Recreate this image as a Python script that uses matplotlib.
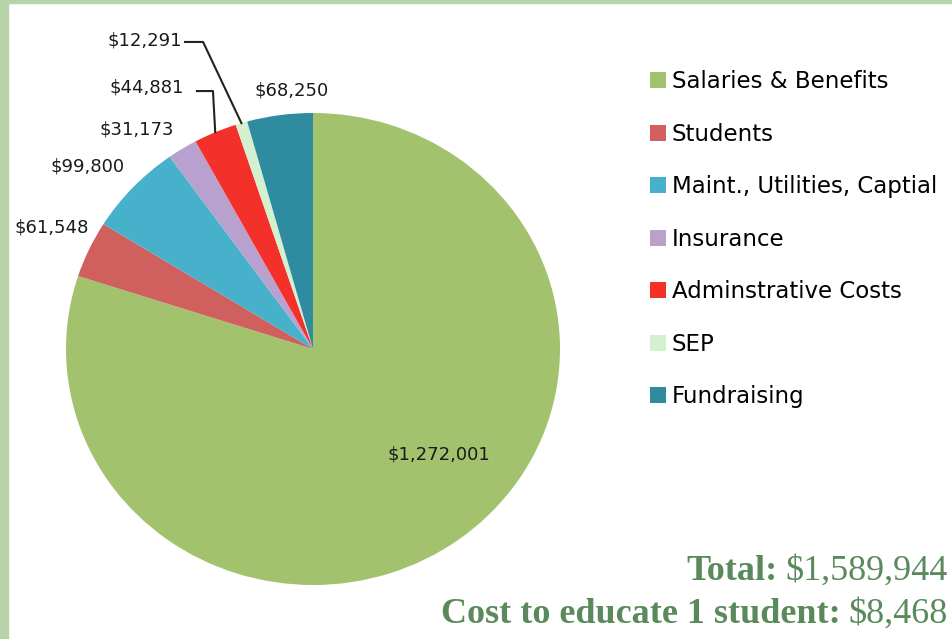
import matplotlib
matplotlib.use("Agg")
import matplotlib.pyplot as plt
from matplotlib.patches import Rectangle
import numpy as np

categories = ["Salaries & Benefits", "Students", "Maint., Utilities, Captial",
              "Insurance", "Adminstrative Costs", "SEP", "Fundraising"]
amounts = [1272001, 61548, 99800, 31173, 44881, 12291, 68250]
colors = ["#a3c26e", "#d0605d", "#47b0cb", "#b8a1cf", "#f4302b", "#d3f1cf", "#2f8ba0"]
total_cost = 1589944
cost_per_student = 8468

# label anchors in pie units (radius 1), placed by hand like the excel original
label_pos = [(0.51, -0.445), (-1.057, 0.513), (-0.911, 0.775), (-0.713, 0.932),
             (-0.672, 1.11), (-0.68, 1.309), (-0.085, 1.097)]
# leader line elbows for the thin slices, None = no line
leader_elbow = [None, None, None, None,
                [(-0.47, 1.093), (-0.405, 1.093)],
                [(-0.518, 1.301), (-0.445, 1.301)],
                None]

W, H = 953, 639
border = "#b7d4a8"
text_green = "#5a8a5b"

fig = plt.figure(figsize=(W / 100, H / 100), dpi=100)
fig.patches.append(Rectangle((0, 0), 8 / W, 1, transform=fig.transFigure, color=border, zorder=0))
fig.patches.append(Rectangle((0, 1 - 3 / H), 1, 3 / H, transform=fig.transFigure, color=border, zorder=0))

# pie box in pixels: x 66..560, y 113..585 (slightly squashed like the source)
ax = fig.add_axes([66 / W, (H - 585) / H, 494 / W, 472 / H])
wedges, _ = ax.pie(amounts, colors=colors, startangle=90, counterclock=False,
                   wedgeprops=dict(linewidth=0))
ax.set_aspect("auto")
ax.set_xlim(-1, 1)
ax.set_ylim(-1, 1)
ax.axis("off")
for w in wedges:
    w.set_clip_on(False)

for i, w in enumerate(wedges):
    x, y = label_pos[i]
    ax.text(x, y, f"${amounts[i]:,}", ha="center", va="center", fontsize=13,
            family="DejaVu Sans", color="#1a1a1a")
    if leader_elbow[i] is not None:
        mid = np.deg2rad((w.theta1 + w.theta2) / 2)
        pts = leader_elbow[i] + [(np.cos(mid), np.sin(mid))]
        xs, ys = zip(*pts)
        ax.plot(xs, ys, color="#222222", lw=1.5, clip_on=False)

fig.legend(wedges, categories, loc="upper left", bbox_to_anchor=(650 / W, 1 - 70 / H),
           frameon=False, prop=dict(family="DejaVu Sans", size=16.5),
           handlelength=0.7, handleheight=0.7, handletextpad=0.25,
           labelspacing=1.29, borderpad=0, borderaxespad=0)

serif = "Liberation Serif"
fs = 26
t1 = fig.text(948 / W, 1 - 580 / H, f"${total_cost:,}", ha="right", va="baseline",
              fontsize=fs, family=serif, color=text_green)
t2 = fig.text(948 / W, 1 - 623 / H, f"${cost_per_student:,}", ha="right", va="baseline",
              fontsize=fs, family=serif, color=text_green)
fig.canvas.draw()
for t, lead in [(t1, "Total:"), (t2, "Cost to educate 1 student:")]:
    x0 = t.get_window_extent().x0
    fig.text((x0 - 8) / W, t.get_position()[1], lead, ha="right", va="baseline",
             fontsize=fs, family=serif, weight="bold", color=text_green)

fig.savefig("out.png", dpi=100)
